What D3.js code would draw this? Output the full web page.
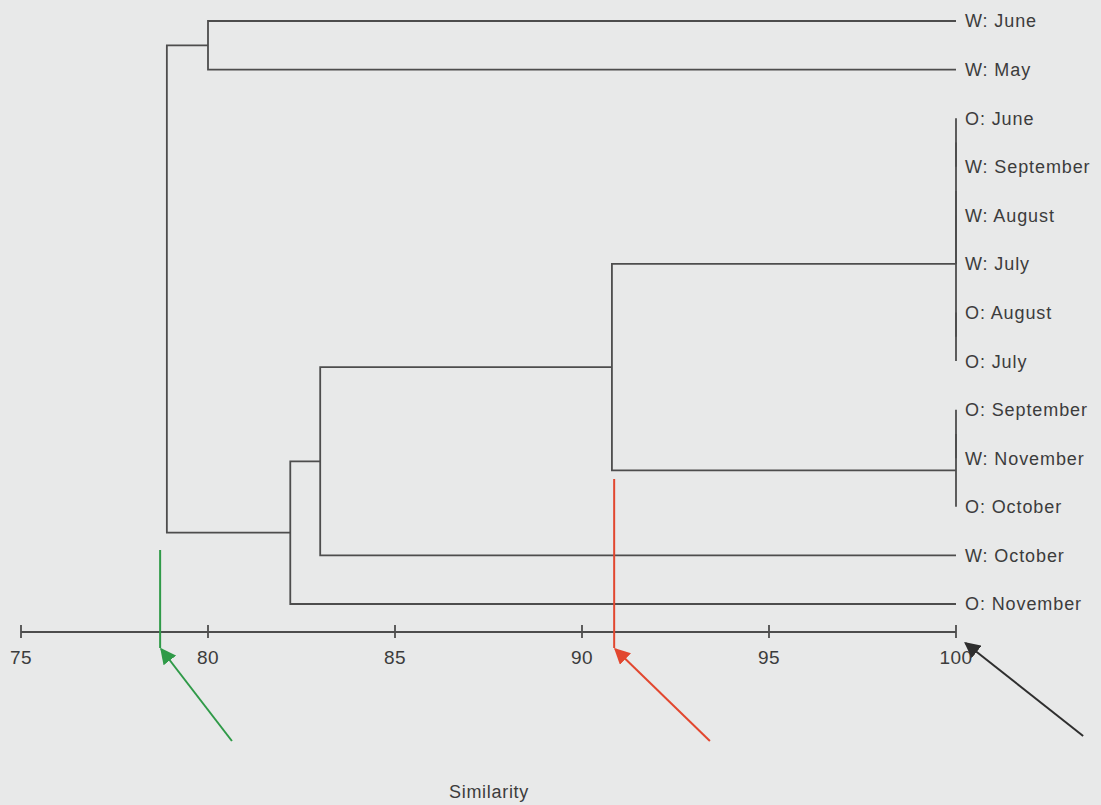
<!DOCTYPE html>
<html>
<head>
<meta charset="utf-8">
<script src="https://cdn.jsdelivr.net/npm/d3@7"></script>
<style>
  body { margin: 0; background: #e8e9e9; }
  svg { display: block; }
  text { font-family: "Liberation Sans", Arial, sans-serif; fill: #3c3c3c; }
</style>
</head>
<body>
<div class="dendro"></div>
<script>
var width = 1101,
    height = 805;

// leaf order, top to bottom
var leaves = ["W: June", "W: May", "O: June", "W: September", "W: August", "W: July",
              "O: August", "O: July", "O: September", "W: November", "O: October",
              "W: October", "O: November"];

// merges: [left, right, similarity]; indexes 0..12 are leaves, 13+ are earlier merges
var merges = [
  [2, 3, 100],     // 13
  [4, 5, 100],     // 14
  [13, 14, 100],   // 15
  [6, 7, 100],     // 16
  [15, 16, 100],   // 17
  [8, 9, 100],     // 18
  [18, 10, 100],   // 19
  [17, 19, 90.8],  // 20
  [20, 11, 83.0],  // 21
  [21, 12, 82.2],  // 22
  [0, 1, 80.0],    // 23
  [23, 22, 78.9]   // 24
];

var ticks = [75, 80, 85, 90, 95, 100];

// cut lines and arrows
var cuts = [
  {value: 78.72, tail: 80.64, color: "#2f9a48", top: 550},
  {value: 90.86, tail: 93.42, color: "#e2472f", top: 479}
];
var endArrow = {tip: 100.25, tail: 103.4, color: "#2e2e2e"};

var x = d3.scaleLinear().domain([75, 100]).range([21, 956]);
var y = d3.scalePoint().domain(leaves).range([21, 604]);
var axisY = 632;

var svg = d3.select(".dendro")
    .append("svg")
    .attr("width", width)
    .attr("height", height);

// node positions
var nodes = leaves.map(function(name) {
  return {x: x(100), y: y(name)};
});
merges.forEach(function(m) {
  var a = nodes[m[0]], b = nodes[m[1]];
  nodes.push({x: x(m[2]), y: (a.y + b.y) / 2, a: a, b: b});
});

svg.append("g")
    .attr("class", "links")
    .selectAll("path")
    .data(nodes.filter(function(d) { return d.a; }))
    .enter()
    .append("path")
    .attr("d", function(d) {
      return "M" + d.a.x + "," + d.a.y + "H" + d.x + "V" + d.b.y + "H" + d.b.x;
    })
    .attr("fill", "none")
    .attr("stroke", "#4d4d4d")
    .attr("stroke-width", 1.8);

svg.append("g")
    .attr("class", "labels")
    .selectAll("text")
    .data(leaves)
    .enter()
    .append("text")
    .attr("x", x(100) + 9)
    .attr("y", function(d) { return y(d); })
    .attr("dy", "0.36em")
    .style("font-size", "18px")
    .style("letter-spacing", "0.9px")
    .text(function(d) { return d; });

// axis
var axis = svg.append("g")
    .attr("class", "axis")
    .attr("transform", "translate(0," + axisY + ")");

axis.append("line")
    .attr("x1", x(75)).attr("x2", x(100))
    .attr("stroke", "#4d4d4d")
    .attr("stroke-width", 1.8);

axis.selectAll(".tick")
    .data(ticks)
    .enter()
    .append("line")
    .attr("class", "tick")
    .attr("x1", function(d) { return x(d); })
    .attr("x2", function(d) { return x(d); })
    .attr("y1", -7).attr("y2", 6)
    .attr("stroke", "#4d4d4d")
    .attr("stroke-width", 1.8);

axis.selectAll("text")
    .data(ticks)
    .enter()
    .append("text")
    .attr("x", function(d) { return x(d); })
    .attr("y", 32)
    .attr("text-anchor", "middle")
    .style("font-size", "19px")
    .style("letter-spacing", "0.5px")
    .text(function(d) { return d; });

svg.append("text")
    .attr("x", 489)
    .attr("y", 798)
    .attr("text-anchor", "middle")
    .style("font-size", "18px")
    .style("letter-spacing", "0.7px")
    .text("Similarity");

// arrowheads
var defs = svg.append("defs");
function marker(id, color) {
  defs.append("marker")
      .attr("id", id)
      .attr("viewBox", "0 0 10 10")
      .attr("refX", 1).attr("refY", 5)
      .attr("markerWidth", 8).attr("markerHeight", 8)
      .attr("markerUnits", "strokeWidth")
      .attr("orient", "auto")
      .append("path")
      .attr("d", "M10,0L0,5L10,10Z")
      .attr("fill", color);
}

cuts.forEach(function(c, i) {
  marker("head" + i, c.color);
  svg.append("line")
      .attr("x1", x(c.value)).attr("x2", x(c.value))
      .attr("y1", c.top).attr("y2", axisY + 16)
      .attr("stroke", c.color)
      .attr("stroke-width", 2);
  svg.append("line")
      .attr("x1", x(c.value) + 1).attr("y1", axisY + 17)
      .attr("x2", x(c.tail)).attr("y2", axisY + 109)
      .attr("stroke", c.color)
      .attr("stroke-width", 2)
      .attr("marker-start", "url(#head" + i + ")");
});

marker("headEnd", endArrow.color);
svg.append("line")
    .attr("x1", x(endArrow.tip)).attr("y1", axisY + 11)
    .attr("x2", x(endArrow.tail)).attr("y2", axisY + 104)
    .attr("stroke", endArrow.color)
    .attr("stroke-width", 2)
    .attr("marker-start", "url(#headEnd)");
</script>
</body>
</html>
